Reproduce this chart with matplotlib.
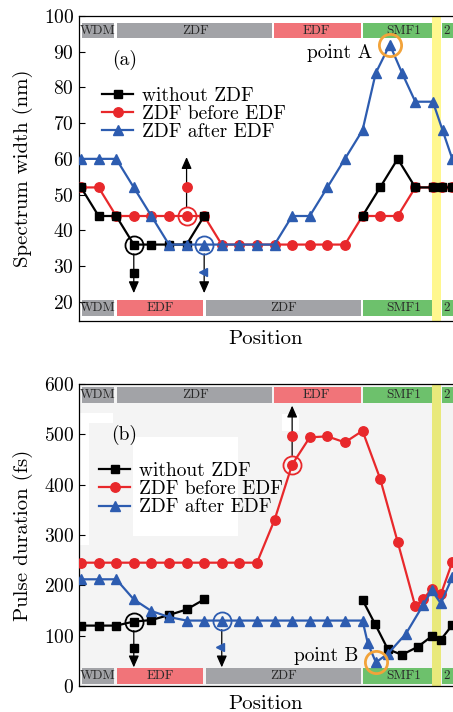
import matplotlib
matplotlib.use('Agg')
from matplotlib import pyplot as plt
from matplotlib.patches import Rectangle
from matplotlib.lines import Line2D

plt.rcParams['font.family'] = ['cmr10', 'DejaVu Serif']
plt.rcParams['axes.formatter.use_mathtext'] = True
plt.rcParams['mathtext.fontset'] = 'cm'

# ---------------- data ----------------
labels = ['without ZDF', 'ZDF before EDF', 'ZDF after EDF']

# (a) spectrum width (nm)
a_black1_x = [0, 1, 2, 3, 4, 5, 6, 7]
a_black1_y = [52, 44, 44, 36, 36, 36, 36, 44]
a_black2_x = [16, 17, 18, 19, 20, 20.5, 21.1]
a_black2_y = [44, 52, 60, 52, 52, 52, 52]
a_red_x = list(range(0, 16)) + [16, 17, 18, 19, 20, 20.5, 21.1]
a_red_y = [52, 52, 44, 44, 44, 44, 44, 44, 36, 36, 36, 36, 36, 36, 36, 36,
           44, 44, 44, 52, 52, 52, 52]
a_blue_x = list(range(0, 16)) + [16, 16.75, 17.55, 18.25, 19.0, 20.0, 20.55, 21.1]
a_blue_y = [60, 60, 60, 52, 44, 36, 36, 36, 36, 36, 36, 36, 44, 44, 52, 60,
            68, 84, 92, 84, 76, 76, 68, 60]

# (b) pulse duration (fs)
b_black1_x = [0, 1, 2, 3, 4, 5, 6, 7]
b_black1_y = [120, 120, 120, 128, 131, 141, 152, 172]
b_black2_x = [16, 16.7, 17.44, 18.24, 19.15, 19.94, 20.45, 21.1]
b_black2_y = [171, 124, 73, 62, 78, 99, 92, 121]
b_red_x = list(range(0, 20)) + [19.43, 19.94, 20.45, 21.1]
b_red_y = [245] * 11 + [330, 440, 494, 496, 484, 507, 412, 286,
                        158, 172, 193, 182, 246]
b_blue_x = list(range(0, 17)) + [16.3, 16.76, 17.44, 18.47, 19.43, 19.94, 20.45, 21.1]
b_blue_y = [212, 212, 212, 172, 149, 137, 130, 130, 130, 130, 130, 130, 130, 130,
            130, 130, 130, 85, 47, 64, 104, 160, 190, 164, 216]

# fibre segments (start, end) along the position axis
top_names = ['WDM', 'ZDF', 'EDF', 'SMF1', '2']
top_start = [0.06, 2.05, 10.97, 16.02, 20.51]
top_end = [1.88, 10.85, 15.9, 19.94, 23.7]
top_lab_x = [0.97, 6.5, 13.4, 18.35, 20.8]
bot_names = ['WDM', 'EDF', 'ZDF', 'SMF1', '2']
bot_start = [0.06, 2.05, 7.1, 16.02, 20.51]
bot_end = [1.88, 6.93, 15.9, 19.94, 23.7]
bot_lab_x = [0.97, 4.5, 11.5, 18.35, 20.8]
yellow_band = (19.94, 20.45)

seg_col = {'WDM': '#a2a3a7', 'ZDF': '#a2a3a7', 'EDF': '#f17479',
           'SMF1': '#6dc16c', '2': '#6dc16c'}

C_BLK = '#000000'
C_RED = '#e8282b'
C_BLU = '#2d5cb0'
C_ORG = '#f2a33a'

fig = plt.figure(figsize=(4.53, 7.12), dpi=100)
W, H = 453.0, 712.0
ax1 = fig.add_axes([79 / W, (H - 321) / H, 419 / W, 305 / H])
ax2 = fig.add_axes([79 / W, (H - 686) / H, 419 / W, 302 / H])


def draw_bars(ax, names, start, end, labx, y0, y1):
    for n, s, e, lx in zip(names, start, end, labx):
        ax.add_patch(Rectangle((s, y0), e - s, y1 - y0, facecolor=seg_col[n],
                               edgecolor='none', zorder=1))
        ax.text(lx, (y0 + y1) / 2, n, ha='center', va='center', fontsize=9.5,
                color='#2a2a2a', zorder=2)


def draw_series(ax, data):
    (k1x, k1y, k2x, k2y, rx, ry, bx, by) = data
    kw = dict(lw=1.6, zorder=4)
    ax.plot(rx, ry, color=C_RED, marker='o', ms=6.8, mec=C_RED, **kw)
    ax.plot(k1x, k1y, color=C_BLK, marker='s', ms=5.4, **kw)
    ax.plot(k2x, k2y, color=C_BLK, marker='s', ms=5.4, **kw)
    ax.plot(bx, by, color=C_BLU, marker='^', ms=7, **kw)


def ring(ax, x, y, c, ms=13, mew=1.3):
    ax.plot([x], [y], 'o', mfc='none', mec=c, ms=ms, mew=mew, zorder=6)


def arrow(ax, x, y0, y1):
    ax.annotate('', xy=(x, y1), xytext=(x, y0),
                arrowprops=dict(arrowstyle='-|>,head_length=0.5,head_width=0.22',
                                color='k', lw=0.9, shrinkA=0, shrinkB=0,
                                mutation_scale=14),
                zorder=5)


def style(ax, ylim, yticks, ylabel):
    ax.set_xlim(-0.114, 23.7)
    ax.set_ylim(*ylim)
    ax.set_yticks(yticks)
    ax.set_xticks([])
    ax.tick_params(axis='y', direction='in', length=4, labelsize=14, width=0.8)
    for s in ['left', 'bottom', 'top']:
        ax.spines[s].set_linewidth(0.9)
    ax.spines['right'].set_visible(False)
    ax.set_ylabel(ylabel, fontsize=15)
    ax.yaxis.set_label_coords(-0.11, 0.5)
    ax.set_xlabel('Position', fontsize=15, va='top')
    ax.xaxis.set_label_coords(0.444, -0.03)


handles = [Line2D([], [], color=C_BLK, marker='s', ms=5.4, lw=1.6),
           Line2D([], [], color=C_RED, marker='o', ms=6.8, lw=1.6),
           Line2D([], [], color=C_BLU, marker='^', ms=7, lw=1.6)]

# ---------------- (a) ----------------
ax1.axvspan(*yellow_band, color='#fff78e', zorder=1.5, lw=0)
draw_bars(ax1, top_names, top_start, top_end, top_lab_x, 93.8, 98)
draw_bars(ax1, bot_names, bot_start, bot_end, bot_lab_x, 16, 20.4)
draw_series(ax1, (a_black1_x, a_black1_y, a_black2_x, a_black2_y,
                  a_red_x, a_red_y, a_blue_x, a_blue_y))
arrow(ax1, 3, 33.4, 22.4)
arrow(ax1, 7, 33.4, 22.4)
arrow(ax1, 6, 46.6, 60.5)
ax1.plot([3], [28], 's', color=C_BLK, ms=5.4, zorder=6)
ax1.plot([6.95], [28.4], '<', color=C_BLU, ms=6, zorder=6)
ax1.plot([6], [52], 'o', color=C_RED, ms=6.8, zorder=6)
ring(ax1, 3, 36, C_BLK)
ring(ax1, 7, 36, C_BLU)
ring(ax1, 6, 44, C_RED)
ring(ax1, 17.55, 92, C_ORG, ms=16, mew=2)
ax1.text(16.53, 89.6, 'point A', ha='right', va='center', fontsize=14)
ax1.text(1.76, 87.8, '(a)', ha='left', va='center', fontsize=14)
ax1.legend(handles, labels, loc='upper left', bbox_to_anchor=(0.055, 0.768),
           frameon=False, fontsize=14, handlelength=1.6, handletextpad=0.45,
           labelspacing=0.02, borderaxespad=0, borderpad=0)
style(ax1, (14.6, 100), [20, 30, 40, 50, 60, 70, 80, 90, 100],
      'Spectrum width (nm)')

# ---------------- (b) ----------------
ax2.set_facecolor('#f4f4f4')
for (x0, x1, y0, y1) in [(2.95, 8.92, 299, 494), (-0.1, 0.45, 280, 543),
                         (-0.1, 1.8, 523, 543), (11.4, 12.4, 507, 541)]:
    ax2.add_patch(Rectangle((x0, y0), x1 - x0, y1 - y0, facecolor='white',
                            edgecolor='none', zorder=0.5))
ax2.axvspan(*yellow_band, color='#e9e97b', zorder=1.5, lw=0)
draw_bars(ax2, top_names, top_start, top_end, top_lab_x, 563, 595)
draw_bars(ax2, bot_names, bot_start, bot_end, bot_lab_x, 3, 35)
draw_series(ax2, (b_black1_x, b_black1_y, b_black2_x, b_black2_y,
                  b_red_x, b_red_y, b_blue_x, b_blue_y))
arrow(ax2, 3, 110, 37)
arrow(ax2, 8, 112, 37)
arrow(ax2, 12, 458, 557)
ax2.plot([3], [75], 's', color=C_BLK, ms=5.4, zorder=6)
ax2.plot([7.9], [77], '<', color=C_BLU, ms=6, zorder=6)
ax2.plot([12], [496], 'o', color=C_RED, ms=6.8, zorder=6)
ring(ax2, 3, 128, C_BLK)
ring(ax2, 8, 130, C_BLU)
ring(ax2, 12, 440, C_RED)
ring(ax2, 16.76, 47, C_ORG, ms=16, mew=2)
ax2.text(15.74, 60, 'point B', ha='right', va='center', fontsize=14)
ax2.text(1.7, 498, '(b)', ha='left', va='center', fontsize=14)
ax2.legend(handles, labels, loc='upper left', bbox_to_anchor=(0.048, 0.742),
           frameon=False, fontsize=14, handlelength=1.6, handletextpad=0.45,
           labelspacing=0.02, borderaxespad=0, borderpad=0)
style(ax2, (0, 600), [0, 100, 200, 300, 400, 500, 600], 'Pulse duration (fs)')

fig.savefig('out.png', dpi=100)
